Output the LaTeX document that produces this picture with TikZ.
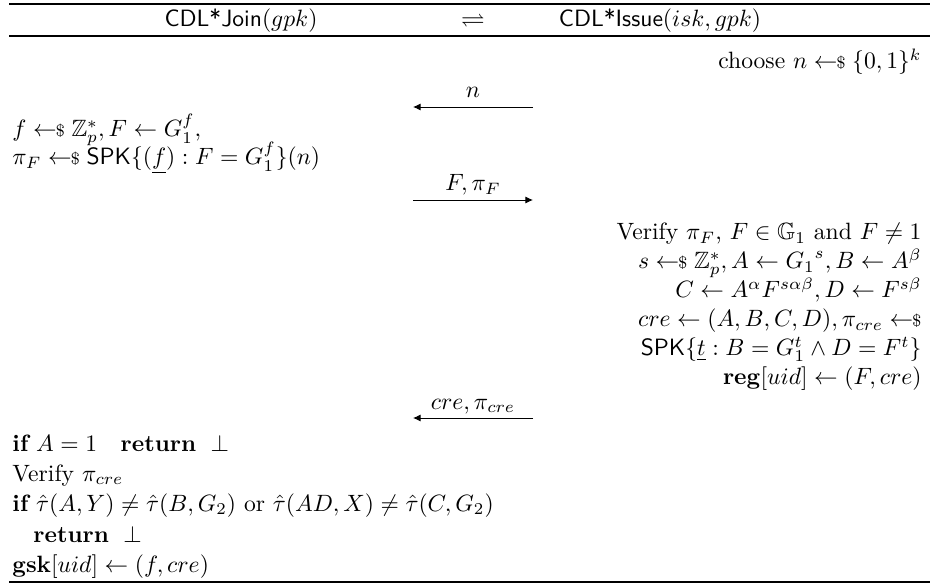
\documentclass[tikz,border=0pt]{standalone}
\usepackage{amsmath,amssymb}
\usetikzlibrary{arrows.meta}

\newcommand{\smpl}{\mathrel{{\leftarrow}\hspace{-0.05em}{\scriptstyle\$}}}
\newcommand{\pkg}[1]{\mathsf{#1}}

\begin{document}
\begin{tikzpicture}[
    x=0.4237pt, y=-0.4237pt,
    every node/.style={inner sep=0pt},
    hdr/.style={anchor=base},
    lhs/.style={anchor=base west},
    rhs/.style={anchor=base east},
    msg/.style={anchor=base},
    send/.style={-{Latex[length=3.2pt,width=3pt]}},
    rule/.style={line width=0.5pt}
]
\useasboundingbox (0,0) rectangle (930,586);

% header
\draw[rule] (9,4) -- (930,4);
\node[hdr] (join) at (241,27) {\textsf{CDL*Join}$(gpk)$};
\node[hdr] (swap) at (473,27) {$\rightleftharpoons$};
\node[hdr] (issue) at (660,27) {\textsf{CDL*Issue}$(isk, gpk)$};
\draw[rule] (9,36) -- (930,36);

% issuer picks nonce
\node[rhs] (nonce) at (922,69) {choose $n \smpl \{0,1\}^k$};
\coordinate (n-from) at (533,107);
\coordinate (n-to) at (413,107);
\draw[send] (n-from) -- (n-to);
\node[msg] (lbl-n) at (473,98) {$n$};

% user commits to f
\node[lhs] (keyf) at (12,137) {$f \smpl \mathbb{Z}_p^*, F \leftarrow G_1^f,$};
\node[lhs] (proofF) at (12,165) {$\pi_F \smpl \pkg{SPK}\{(\underline{f}) : F = G_1^f\}(n)$};
\coordinate (F-from) at (413,200);
\coordinate (F-to) at (533,200);
\draw[send] (F-from) -- (F-to);
\node[msg] (lbl-F) at (473,191) {$F, \pi_F$};

% issuer builds credential
\node[rhs] (chkF) at (922,240) {Verify $\pi_F$, $F \in \mathbb{G}_1$ and $F \neq 1$};
\node[rhs] (crs) at (922,269) {$s \smpl \mathbb{Z}_p^*, A \leftarrow {G_1}^s, B \leftarrow A^\beta$};
\node[rhs] (crc) at (922,298) {$C \leftarrow A^\alpha F^{s\alpha\beta}, D \leftarrow F^{s\beta}$};
\node[rhs] (cre) at (922,327) {$cre \leftarrow (A,B,C,D), \pi_{cre} \smpl$};
\node[rhs] (spk) at (922,356) {$\pkg{SPK}\{\underline{t} : B = G_1^t \wedge D = F^t\}$};
\node[rhs] (reg) at (922,385) {$\mathbf{reg}[uid] \leftarrow (F, cre)$};
\coordinate (c-from) at (533,418);
\coordinate (c-to) at (413,418);
\draw[send] (c-from) -- (c-to);
\node[msg] (lbl-c) at (473,409) {$cre, \pi_{cre}$};

% user checks credential
\node[lhs] (chkA) at (12,451) {$\textbf{if}\ A = 1\quad \textbf{return}\ \perp$};
\node[lhs] (chkpi) at (12,481) {Verify $\pi_{cre}$};
\node[lhs] (chkpair) at (12,511) {$\textbf{if}\ \hat{\tau}(A,Y) \neq \hat{\tau}(B,G_2)$ or $\hat{\tau}(AD,X) \neq \hat{\tau}(C,G_2)$};
\node[lhs] (ret) at (33,542) {$\textbf{return}\ \perp$};
\node[lhs] (gsk) at (12,572) {$\mathbf{gsk}[uid] \leftarrow (f, cre)$};
\draw[rule] (9,582) -- (930,582);
\end{tikzpicture}
\end{document}
